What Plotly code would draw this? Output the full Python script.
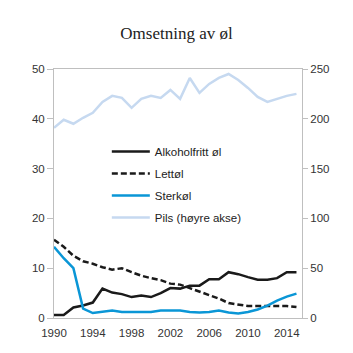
import plotly.graph_objects as go

years = list(range(1990, 2016))
alkoholfritt = [0.6, 0.6, 2.1, 2.5, 3.1, 5.9, 5.1, 4.8, 4.2, 4.5, 4.2, 5.0, 6.0,
                5.9, 6.5, 6.5, 7.8, 7.8, 9.2, 8.8, 8.2, 7.7, 7.7, 8.0, 9.2, 9.2]
lettol = [15.7, 14.3, 12.5, 11.4, 10.9, 10.2, 9.7, 10.0, 9.2, 8.5, 8.0, 7.6, 6.9,
          6.7, 6.0, 5.3, 4.5, 3.9, 3.0, 2.7, 2.4, 2.4, 2.4, 2.4, 2.4, 2.2]
sterkol = [14.3, 12.0, 10.0, 1.9, 1.0, 1.3, 1.5, 1.2, 1.2, 1.2, 1.2, 1.5, 1.5,
           1.5, 1.2, 1.1, 1.2, 1.5, 1.1, 0.9, 1.2, 1.7, 2.5, 3.5, 4.3, 4.9]
pils = [191, 199, 195, 201, 206, 217, 223, 221, 211, 220, 223, 221, 229,
        220, 241, 226, 235, 241, 245, 239, 231, 222, 217, 220, 223, 225]

left_ticks = [0, 10, 20, 30, 40, 50]
right_ticks = [0, 50, 100, 150, 200, 250]
x_ticks = [1990, 1994, 1998, 2002, 2006, 2010, 2014]

fig = go.Figure()
fig.add_trace(go.Scatter(x=years, y=alkoholfritt, name="Alkoholfritt øl", mode="lines",
                         legendgroup="a", line=dict(color="#1a1a1a", width=2.5)))
fig.add_trace(go.Scatter(x=years, y=lettol, name="Lettøl", mode="lines",
                         legendgroup="b", line=dict(color="#1a1a1a", width=2.5, dash="6px,3px")))
fig.add_trace(go.Scatter(x=years, y=sterkol, name="Sterkøl", mode="lines",
                         legendgroup="c", line=dict(color="#0a96d6", width=2.5)))
fig.add_trace(go.Scatter(x=years, y=pils, name="Pils (høyre akse)", mode="lines",
                         legendgroup="d", line=dict(color="#c6d9f0", width=2.5), yaxis="y2"))

axis_col = "#bfbfbf"
tick_font = dict(family="Liberation Sans, Arial, sans-serif", size=11.5, color="#333333")

fig.update_layout(
    width=353, height=353,
    margin=dict(l=54, r=51, t=69, b=35),
    paper_bgcolor="white", plot_bgcolor="white",
    title=dict(text="Omsetning av øl", x=0.5, xanchor="center", y=0.905, yanchor="middle",
               font=dict(family="Liberation Serif, Times New Roman, serif", size=17, color="#222222")),
    showlegend=True,
    legend=dict(x=0.213, y=0.727, xanchor="left", yanchor="top", bgcolor="rgba(0,0,0,0)",
                font=dict(family="Liberation Sans, Arial, sans-serif", size=11.5, color="#222222"),
                tracegroupgap=3, itemwidth=38),
    xaxis=dict(range=[1990, 2015.57], tickvals=x_ticks, showgrid=False, zeroline=False,
               showline=True, linecolor=axis_col, linewidth=1, mirror=True,
               ticks="outside", ticklen=4, tickcolor="rgba(0,0,0,0)", tickfont=tick_font),
    yaxis=dict(range=[0, 50], tickvals=left_ticks, showgrid=False, zeroline=False,
               showline=True, linecolor=axis_col, linewidth=1,
               ticks="outside", ticklen=6, tickcolor=axis_col, tickfont=tick_font),
    yaxis2=dict(range=[0, 250], tickvals=right_ticks, overlaying="y", side="right",
                showgrid=False, zeroline=False, showline=True, linecolor=axis_col, linewidth=1,
                ticks="outside", ticklen=5, tickcolor=axis_col, tickfont=tick_font),
)

fig.write_html("out.html")
